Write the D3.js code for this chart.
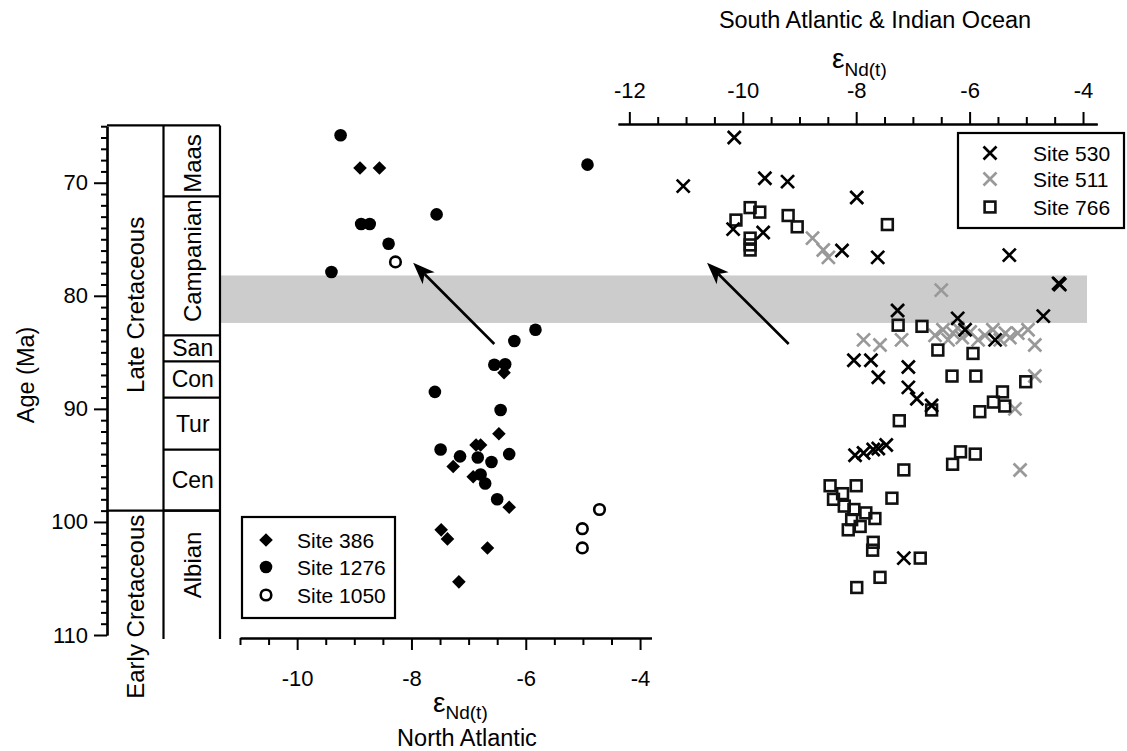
<!DOCTYPE html>
<html><head><meta charset="utf-8">
<script src="https://cdn.jsdelivr.net/npm/d3@7"></script>
<style>
html,body{margin:0;padding:0;background:#fff;}
svg text{font-family:"Liberation Sans",Arial,sans-serif;fill:#000;}
</style></head>
<body>
<svg id="chart" width="1127" height="751"></svg>
<script>
// ---------------- DATA ----------------
// North Atlantic (bottom axis): [eNd, age Ma]
const site386 = [[-8.90,68.7],[-8.56,68.7],[-6.38,86.8],[-6.47,92.2],[-6.87,93.2],[-6.79,93.2],[-7.27,95.1],[-6.92,96.0],[-6.29,98.7],[-7.48,100.7],[-7.37,101.5],[-6.67,102.3],[-7.17,105.3]];
const site1276 = [[-9.24,65.8],[-4.92,68.4],[-8.88,73.65],[-8.73,73.65],[-7.56,72.8],[-8.40,75.4],[-9.40,77.9],[-5.83,83.0],[-6.20,84.0],[-6.55,86.1],[-6.36,86.06],[-7.59,88.5],[-6.44,90.1],[-7.49,93.6],[-7.15,94.2],[-6.84,94.3],[-6.60,94.7],[-6.29,94.0],[-6.79,95.8],[-6.71,96.6],[-6.50,98.0]];
const site1050 = [[-8.28,77.0],[-4.71,98.9],[-5.01,100.6],[-5.01,102.3]];
// South Atlantic & Indian Ocean (top axis)
const site530 = [[-10.15,66.0],[-11.05,70.3],[-9.61,69.6],[-9.21,69.9],[-10.17,74.1],[-9.64,74.4],[-7.99,71.3],[-8.25,76.0],[-7.62,76.6],[-5.30,76.4],[-4.41,79.0],[-4.43,78.9],[-7.27,81.3],[-6.21,82.0],[-4.70,81.8],[-6.08,83.0],[-5.55,83.9],[-8.04,85.7],[-7.74,85.7],[-7.61,87.2],[-7.08,86.3],[-7.08,88.1],[-6.93,89.1],[-6.67,89.7],[-8.02,94.1],[-7.87,93.9],[-7.70,93.6],[-7.61,93.5],[-7.47,93.2],[-7.16,103.2]];
const site511 = [[-8.77,74.9],[-8.58,75.95],[-8.49,76.6],[-6.50,79.5],[-7.87,83.9],[-7.58,84.35],[-7.20,83.9],[-6.61,83.5],[-6.47,83.0],[-6.38,83.9],[-6.29,83.3],[-6.21,82.85],[-6.13,83.7],[-5.99,83.2],[-5.85,83.9],[-5.73,83.5],[-5.59,83.0],[-5.46,83.9],[-5.37,83.3],[-5.29,83.7],[-5.15,83.3],[-4.97,83.0],[-4.85,84.35],[-5.20,90.0],[-4.85,87.1],[-5.11,95.4]];
const site766 = [[-10.12,73.3],[-9.87,72.2],[-9.70,72.6],[-9.20,72.9],[-9.04,73.9],[-9.87,74.9],[-9.87,75.5],[-9.87,75.95],[-7.45,73.7],[-7.26,82.6],[-6.84,82.7],[-6.56,84.8],[-5.94,85.1],[-6.31,87.1],[-5.89,87.1],[-5.01,87.6],[-5.42,88.5],[-5.58,89.4],[-5.38,89.75],[-5.82,90.25],[-6.67,90.1],[-7.24,91.05],[-6.16,93.8],[-5.90,94.0],[-6.30,94.9],[-7.16,95.4],[-7.37,97.9],[-8.46,96.8],[-8.00,96.8],[-8.24,97.5],[-8.40,98.0],[-8.21,98.6],[-8.04,98.9],[-7.83,99.2],[-7.67,99.7],[-8.08,99.8],[-7.93,100.4],[-8.14,100.7],[-7.70,101.8],[-7.71,102.5],[-6.87,103.2],[-7.58,104.9],[-7.99,105.8]];

// Stratigraphy
const epochs = [{name:"Late Cretaceous",top:65,base:99,mid:80.8},{name:"Early Cretaceous",top:99,base:110,mid:107.5}];
const stages = [{name:"Maas",top:65,base:71.2,mid:68.3,rot:true},{name:"Campanian",top:71.2,base:83.5,mid:76.9,rot:true},{name:"San",top:83.5,base:85.8,mid:84.65,rot:false},{name:"Con",top:85.8,base:89.0,mid:87.4,rot:false},{name:"Tur",top:89.0,base:93.6,mid:91.3,rot:false},{name:"Cen",top:93.6,base:99.0,mid:96.3,rot:false},{name:"Albian",top:99.0,base:110,mid:103.8,rot:true}];
const band = [78.2, 82.4];
const yTicksMajor = [70,80,90,100,110];
const xBotMajor = [-10,-8,-6,-4];
const xTopMajor = [-12,-10,-8,-6,-4];
const arrowsNA = [[-6.55,84.26,-7.97,77.07]];
const arrowsSA = [[-9.19,84.26,-10.63,77.07]];
const legendNA = ["Site 386","Site 1276","Site 1050"];
const legendSA = ["Site 530","Site 511","Site 766"];

// ---------------- SCALES ----------------
const svg = d3.select("#chart");
const y = d3.scaleLinear().domain([65,110]).range([126.2,635]);
const xB = d3.scaleLinear().domain([-11,-3.8]).range([240,651.5]);
const xT = d3.scaleLinear().domain([-12.2,-3.75]).range([618,1097.2]);
const AX = 107, COL1 = 163.5, COL2 = 220;
const GREY = "#999999";
const FT = 22, FC = 24, FL = 21, FTI = 23.5;
const fmt = v => String(v);

// band
svg.append("rect").attr("x",COL2+1).attr("y",y(band[0])).attr("width",1087-COL2-1).attr("height",y(band[1])-y(band[0])).attr("fill","#cccccc");

function styleAxis(g){g.select(".domain").attr("stroke-width",2.2);g.selectAll(".tick line").attr("stroke-width",2);g.selectAll("text").attr("font-size",FT).attr("font-family","Liberation Sans, Arial");}

// ---------------- Y AXIS ----------------
const yMinor = d3.range(65,111,1).filter(v=>v%10!==0);
const gy = svg.append("g").attr("transform",`translate(${AX},0)`);
gy.call(d3.axisLeft(y).tickValues(yMinor).tickSize(6).tickSizeOuter(0).tickFormat(""));
const gy2 = svg.append("g").attr("transform",`translate(${AX},0)`);
gy2.call(d3.axisLeft(y).tickValues(yTicksMajor).tickSize(13).tickSizeOuter(0).tickPadding(6).tickFormat(fmt));
[gy,gy2].forEach(styleAxis);
svg.append("text").attr("transform",`translate(34,${y(87)}) rotate(-90)`).attr("text-anchor","middle").attr("font-size",FTI).text("Age (Ma)");

// ---------------- STRAT COLUMN ----------------
const strat = svg.append("g").attr("stroke","#000").attr("stroke-width",2.2);
strat.append("line").attr("x1",AX).attr("x2",COL2).attr("y1",y(65)-0.8).attr("y2",y(65)-0.8);
strat.append("line").attr("x1",COL1).attr("x2",COL1).attr("y1",y(65)-0.8).attr("y2",y(110)+4);
strat.append("line").attr("x1",COL2).attr("x2",COL2).attr("y1",y(65)-0.8).attr("y2",y(110)+4);
strat.append("line").attr("x1",AX).attr("x2",COL2).attr("y1",y(99)).attr("y2",y(99));
stages.slice(1).forEach(s=>strat.append("line").attr("x1",COL1).attr("x2",COL2).attr("y1",y(s.top)).attr("y2",y(s.top)));
const cx1 = (AX+COL1)/2+1, cx2 = (COL1+COL2)/2+1;
epochs.forEach(e=>{
  svg.append("text").attr("transform",`translate(${cx1+8},${y(e.mid)}) rotate(-90)`).attr("text-anchor","middle").attr("font-size",FC).text(e.name);
});
stages.forEach(s=>{
  const cy = y(s.mid);
  if(s.rot){
    svg.append("text").attr("transform",`translate(${cx2+8},${cy}) rotate(-90)`).attr("text-anchor","middle").attr("font-size",FC).text(s.name);
  } else {
    svg.append("text").attr("x",cx2).attr("y",cy+8).attr("text-anchor","middle").attr("font-size",23).text(s.name);
  }
});

// ---------------- BOTTOM AXIS ----------------
const yB = 638;
const xbMinor = d3.range(-11,-3.9,0.5).filter(v=>!xBotMajor.includes(v));
const gb = svg.append("g").attr("transform",`translate(0,${yB})`);
gb.call(d3.axisBottom(xB).tickValues(xbMinor).tickSize(7).tickSizeOuter(0).tickFormat(""));
const gb2 = svg.append("g").attr("transform",`translate(0,${yB})`);
gb2.call(d3.axisBottom(xB).tickValues(xBotMajor).tickSize(12).tickSizeOuter(0).tickPadding(20).tickFormat(fmt));
[gb,gb2].forEach(styleAxis);
const eb = svg.append("text").attr("x",433).attr("y",712);
eb.append("tspan").attr("font-size",28).text("ε");
eb.append("tspan").attr("font-size",19).attr("dy",7).text("Nd(t)");
svg.append("text").attr("x",467).attr("y",746).attr("text-anchor","middle").attr("font-size",FTI).text("North Atlantic");

// ---------------- TOP AXIS ----------------
const yTop = 124;
const xtMinor = d3.range(-12,-3.9,0.5).filter(v=>!xTopMajor.includes(v));
const gt = svg.append("g").attr("transform",`translate(0,${yTop})`);
gt.call(d3.axisTop(xT).tickValues(xtMinor).tickSize(7).tickSizeOuter(0).tickFormat(""));
const gt2 = svg.append("g").attr("transform",`translate(0,${yTop})`);
gt2.call(d3.axisTop(xT).tickValues(xTopMajor).tickSize(12).tickSizeOuter(0).tickPadding(14).tickFormat(fmt));
[gt,gt2].forEach(styleAxis);
const et = svg.append("text").attr("x",832).attr("y",68);
et.append("tspan").attr("font-size",28).text("ε");
et.append("tspan").attr("font-size",19).attr("dy",8).text("Nd(t)");
svg.append("text").attr("x",875).attr("y",28).attr("text-anchor","middle").attr("font-size",FTI).text("South Atlantic & Indian Ocean");

// ---------------- MARKERS ----------------
const diamond = "M0,-6.8L6.8,0L0,6.8L-6.8,0Z";
function drawDiamonds(g,data,xs){g.selectAll(null).data(data).join("path").attr("d",diamond).attr("transform",d=>`translate(${xs(d[0])},${y(d[1])})`).attr("fill","#000");}
function drawCircles(g,data,xs,open){g.selectAll(null).data(data).join("circle").attr("cx",d=>xs(d[0])).attr("cy",d=>y(d[1])).attr("r",open?5.3:6.3).attr("fill",open?"#fff":"#000").attr("stroke","#000").attr("stroke-width",open?2.6:0);}
function drawX(g,data,xs,col){const s=6.5;g.selectAll(null).data(data).join("path").attr("d",`M${-s},${-s}L${s},${s}M${-s},${s}L${s},${-s}`).attr("transform",d=>`translate(${xs(d[0])},${y(d[1])})`).attr("stroke",col).attr("stroke-width",2.7).attr("fill","none");}
function drawSquares(g,data,xs){const h=5.4;g.selectAll(null).data(data).join("rect").attr("x",d=>xs(d[0])-h).attr("y",d=>y(d[1])-h).attr("width",2*h).attr("height",2*h).attr("fill","none").attr("stroke","#111").attr("stroke-width",2.6);}

const gm = svg.append("g");
drawX(gm,site511,xT,GREY);
drawSquares(gm,site766,xT);
drawX(gm,site530,xT,"#000");
drawDiamonds(gm,site386,xB);
drawCircles(gm,site1276,xB,false);
drawCircles(gm,site1050,xB,true);

// ---------------- ARROWS ----------------
function arrow(x1,y1,x2,y2){
  const ang=Math.atan2(y2-y1,x2-x1), L=22, W=8.5, back=16;
  const ux=Math.cos(ang), uy=Math.sin(ang);
  svg.append("line").attr("x1",x1).attr("y1",y1).attr("x2",x2-ux*back).attr("y2",y2-uy*back).attr("stroke","#000").attr("stroke-width",2.6);
  const p=[[x2,y2],[x2-ux*L-uy*W,y2-uy*L+ux*W],[x2-ux*back,y2-uy*back],[x2-ux*L+uy*W,y2-uy*L-ux*W]];
  svg.append("path").attr("d","M"+p.map(q=>q.join(",")).join("L")+"Z").attr("fill","#000");
}
arrowsNA.forEach(a=>arrow(xB(a[0]),y(a[1]),xB(a[2]),y(a[3])));
arrowsSA.forEach(a=>arrow(xT(a[0]),y(a[1]),xT(a[2]),y(a[3])));

// ---------------- LEGENDS ----------------
const lg1 = svg.append("g");
lg1.append("rect").attr("x",242).attr("y",517).attr("width",153).attr("height",101).attr("fill","#fff").attr("stroke","#000").attr("stroke-width",2.2);
const ly1=[540,567,595];
lg1.append("path").attr("d",diamond).attr("transform",`translate(266,${ly1[0]})`).attr("fill","#000");
lg1.append("circle").attr("cx",266).attr("cy",ly1[1]).attr("r",6.3).attr("fill","#000");
lg1.append("circle").attr("cx",266).attr("cy",ly1[2]).attr("r",5.3).attr("fill","#fff").attr("stroke","#000").attr("stroke-width",2.6);
legendNA.forEach((t,i)=>lg1.append("text").attr("x",297).attr("y",ly1[i]+7.5).attr("font-size",FL).text(t));

const lg2 = svg.append("g");
lg2.append("rect").attr("x",958).attr("y",133).attr("width",166).attr("height",95).attr("fill","#fff").attr("stroke","#000").attr("stroke-width",2.2);
const ly2=[153,179,207];
lg2.append("path").attr("d","M-6.5,-6.5L6.5,6.5M-6.5,6.5L6.5,-6.5").attr("transform",`translate(990,${ly2[0]})`).attr("stroke","#000").attr("stroke-width",2.7);
lg2.append("path").attr("d","M-6.5,-6.5L6.5,6.5M-6.5,6.5L6.5,-6.5").attr("transform",`translate(990,${ly2[1]})`).attr("stroke",GREY).attr("stroke-width",2.7);
lg2.append("rect").attr("x",990-5.4).attr("y",ly2[2]-5.4).attr("width",10.8).attr("height",10.8).attr("fill","none").attr("stroke","#111").attr("stroke-width",2.6);
legendSA.forEach((t,i)=>lg2.append("text").attr("x",1033).attr("y",ly2[i]+7.5).attr("font-size",FL).text(t));
</script>
</body></html>
